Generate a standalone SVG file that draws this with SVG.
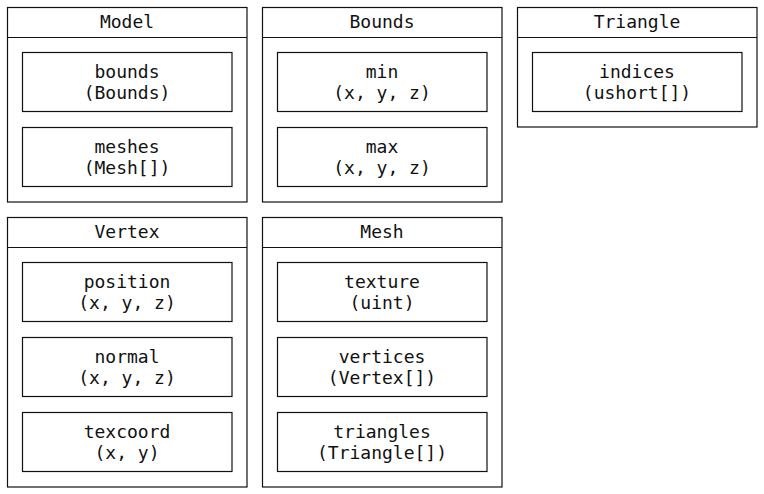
<svg xmlns="http://www.w3.org/2000/svg" width="764" height="494" viewBox="0 0 764 494">
<style>
rect{fill:#fff;stroke:#111;stroke-width:1.2}
line{stroke:#111;stroke-width:1.2}
text{font-family:"DejaVu Sans Mono","Liberation Mono",monospace;font-size:18px;fill:#111;text-anchor:middle}
</style>
<rect x="0" y="0" width="764" height="494" style="stroke:none"/>
<g id="Model">
<rect x="7.5" y="7.5" width="239.5" height="194.5"/><line x1="7.5" y1="37.5" x2="247" y2="37.5"/>
<text x="127" y="28">Model</text>
<rect x="22.5" y="52.5" width="209.5" height="59"/><text x="127" y="78">bounds</text><text x="127" y="99">(Bounds)</text>
<rect x="22.5" y="127.5" width="209.5" height="59"/><text x="127" y="153">meshes</text><text x="127" y="174">(Mesh[])</text>
</g>
<g id="Bounds">
<rect x="262.5" y="7.5" width="239.5" height="194.5"/><line x1="262.5" y1="37.5" x2="502" y2="37.5"/>
<text x="382" y="28">Bounds</text>
<rect x="277.5" y="52.5" width="209.5" height="59"/><text x="382" y="78">min</text><text x="382" y="99">(x, y, z)</text>
<rect x="277.5" y="127.5" width="209.5" height="59"/><text x="382" y="153">max</text><text x="382" y="174">(x, y, z)</text>
</g>
<g id="Triangle">
<rect x="517.5" y="7.5" width="239.5" height="119.5"/><line x1="517.5" y1="37.5" x2="757" y2="37.5"/>
<text x="637" y="28">Triangle</text>
<rect x="532.5" y="52.5" width="209.5" height="59"/><text x="637" y="78">indices</text><text x="637" y="99">(ushort[])</text>
</g>
<g id="Vertex">
<rect x="7.5" y="217.5" width="239.5" height="269.5"/><line x1="7.5" y1="247.5" x2="247" y2="247.5"/>
<text x="127" y="238">Vertex</text>
<rect x="22.5" y="262.5" width="209.5" height="59"/><text x="127" y="288">position</text><text x="127" y="309">(x, y, z)</text>
<rect x="22.5" y="337.5" width="209.5" height="59"/><text x="127" y="363">normal</text><text x="127" y="384">(x, y, z)</text>
<rect x="22.5" y="412.5" width="209.5" height="59"/><text x="127" y="438">texcoord</text><text x="127" y="459">(x, y)</text>
</g>
<g id="Mesh">
<rect x="262.5" y="217.5" width="239.5" height="269.5"/><line x1="262.5" y1="247.5" x2="502" y2="247.5"/>
<text x="382" y="238">Mesh</text>
<rect x="277.5" y="262.5" width="209.5" height="59"/><text x="382" y="288">texture</text><text x="382" y="309">(uint)</text>
<rect x="277.5" y="337.5" width="209.5" height="59"/><text x="382" y="363">vertices</text><text x="382" y="384">(Vertex[])</text>
<rect x="277.5" y="412.5" width="209.5" height="59"/><text x="382" y="438">triangles</text><text x="382" y="459">(Triangle[])</text>
</g>
<g id="connectors"></g>
</svg>
